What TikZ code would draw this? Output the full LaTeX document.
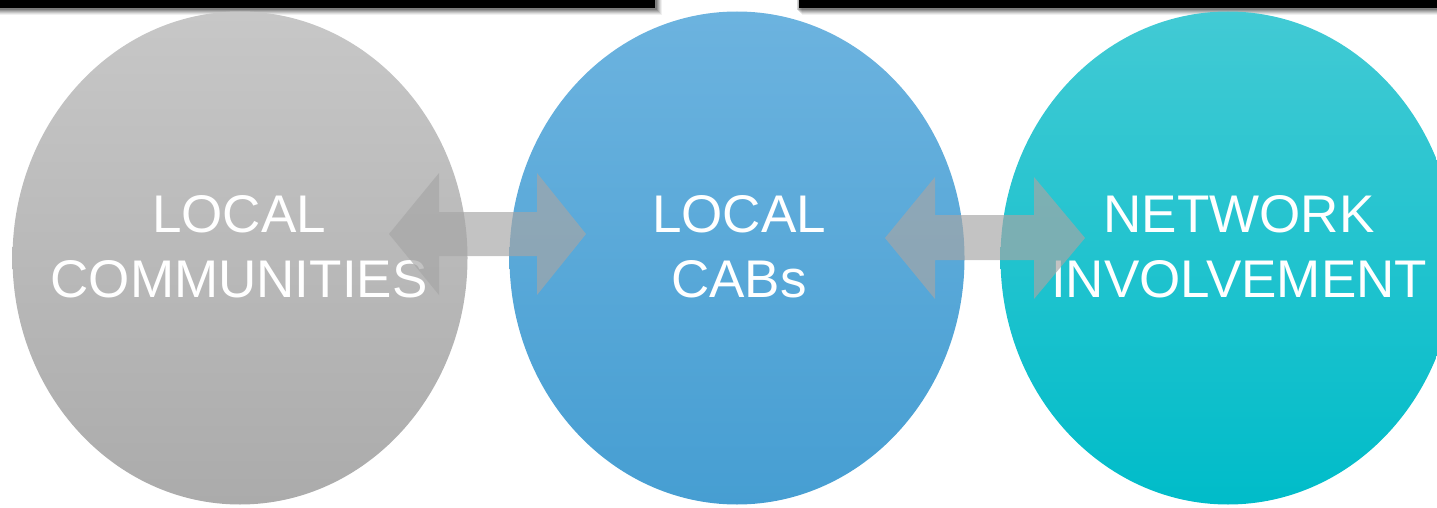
\documentclass[tikz,border=0pt]{standalone}
\usepackage{fontspec}
\setmainfont{Liberation Sans}
\usetikzlibrary{shapes.geometric}
\definecolor{grayT}{HTML}{C7C7C7}
\definecolor{grayB}{HTML}{ABABAB}
\definecolor{blueT}{HTML}{6CB3DF}
\definecolor{blueB}{HTML}{469ED2}
\definecolor{tealT}{HTML}{42CAD4}
\definecolor{tealB}{HTML}{00BCC9}
\definecolor{arrowfill}{HTML}{A6A6A6}
\tikzset{
  bubble/.style={ellipse, minimum width=455pt, minimum height=493pt, inner sep=0pt, shading=axis, shading angle=0},
  label/.style={text=white, font=\fontsize{53}{65}\selectfont, anchor=base, inner sep=0pt},
  dblarrow/.style={fill=arrowfill, fill opacity=0.67},
  topbar/.style={fill=black},
}
\begin{document}
\begin{tikzpicture}[x=1pt,y=-1pt]
\useasboundingbox (0,0) rectangle (1437,508);
\clip (0,0) rectangle (1437,508);
% top bars with soft shadows
\foreach \s/\o in {7/0.06,6/0.08,5/0.10,4/0.12,3/0.14,2/0.16}{
  \fill[black, opacity=\o] (-5,0) rectangle (655+\s,8+\s);
  \fill[black, opacity=\o] (799+\s-4,0) rectangle (1445,8+\s);
}
\fill[topbar] (0,0) rectangle (655,8);
\fill[topbar] (799,0) rectangle (1445,8);
% ellipses
\node[bubble, top color=grayT, bottom color=grayB] (comm) at (240,258) {};
\node[bubble, top color=blueT, bottom color=blueB] (cabs) at (737,258) {};
\node[bubble, top color=tealT, bottom color=tealB] (net) at (1228,258) {};
% labels
\node[label] (commA) at (239,232) {LOCAL};
\node[label] (commB) at (239,297) {COMMUNITIES};
\node[label] (cabsA) at (739,232) {LOCAL};
\node[label] (cabsB) at (739,297) {CABs};
\node[label] (netA) at (1239,232) {NETWORK};
\node[label] (netB) at (1239,297) {INVOLVEMENT};
% double arrows
\fill[dblarrow] (389,234) -- (439,173) -- (439,212) -- (537,212) -- (537,173) -- (586,234)
  -- (537,295) -- (537,256) -- (439,256) -- (439,295) -- cycle;
\fill[dblarrow] (885,238) -- (935,177) -- (935,215) -- (1034,215) -- (1034,177) -- (1085,238)
  -- (1034,299) -- (1034,260) -- (935,260) -- (935,299) -- cycle;
\end{tikzpicture}
\end{document}
